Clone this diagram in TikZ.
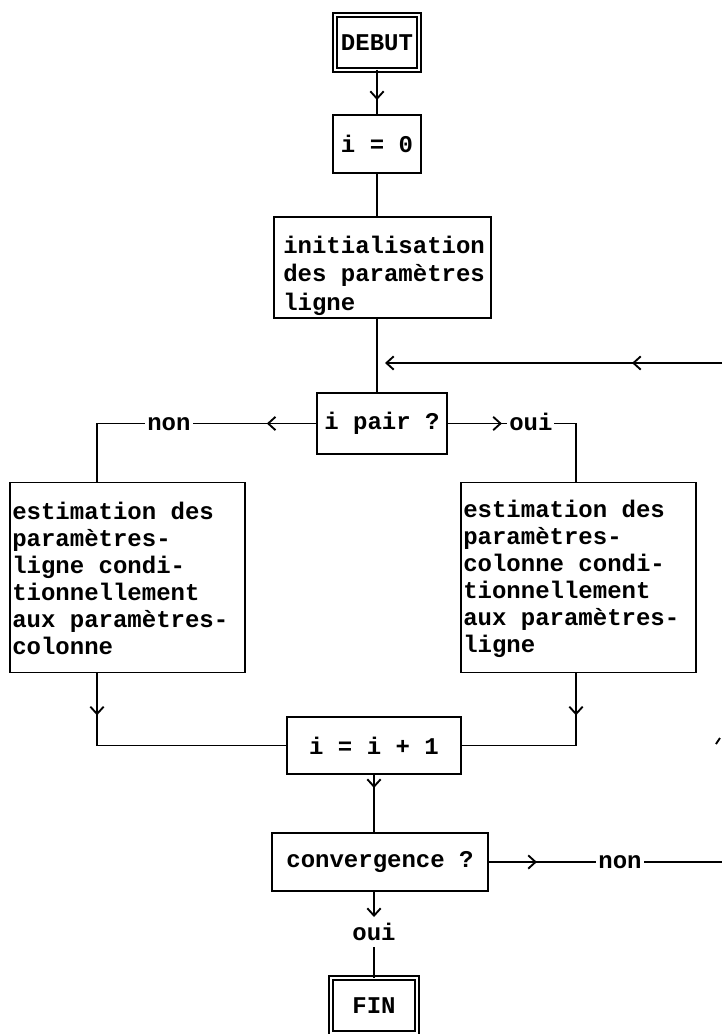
\documentclass[tikz,border=0pt]{standalone}
\usepackage{fontspec}
\newfontfamily\tw{Liberation Mono}
\usetikzlibrary{arrows.meta,decorations.markings,calc}
\newdimen\pxu \pxu=0.75pt
\begin{document}
\begin{tikzpicture}[x=0.75pt,y=-0.75pt,
  >={Straight Barb[length=5.5pt,width=10pt]},
  tfont/.style={font=\tw\bfseries\fontsize{18}{20.25}\selectfont},
  box/.style={draw, line width=1.4pt, outer sep=0pt, inner sep=0pt, tfont},
  dbox/.style={box, double, double distance=1.5pt, line width=1.5pt},
  txt/.style={inner sep=0pt, tfont},
  mtxt/.style={txt, align=left, anchor=west},
  lbl/.style={fill=white, inner xsep=1.5pt, inner ysep=1pt, anchor=base, yshift=-5pt, tfont},
  conn/.style={line width=1.4pt},
  marr/.style={postaction={decorate,decoration={markings,mark=at position #1 with {\arrow{>}}}}}
]
\useasboundingbox (0,0) rectangle (722,1034);
\fill[white] (0,0) rectangle (722,1034);

% nodes
\node[dbox, minimum width=84\pxu, minimum height=55\pxu] (debut) at (377,42.5) {DEBUT};
\node[box, minimum width=88\pxu, minimum height=58\pxu] (i0) at (377,144) {i = 0};
\node[box, minimum width=217\pxu, minimum height=101\pxu] (init) at (382.5,267.5) {};
\node[mtxt, font=\tw\bfseries\fontsize{18}{21.4}\selectfont] (initt) at (283,275.5) {initialisation\\des paramètres\\ligne};
\node[box, minimum width=130\pxu, minimum height=61\pxu] (ipair) at (382,423.5) {i pair ?};
\node[box, minimum width=235\pxu, minimum height=190\pxu] (lbox) at (127.5,577.5) {};
\node[mtxt] (lboxt) at (12,578.5)
  {estimation des\\paramètres-\\ligne condi-\\tionnellement\\aux paramètres-\\colonne};
\node[box, minimum width=235\pxu, minimum height=190\pxu] (rbox) at (578.5,577.5) {};
\node[mtxt] (rboxt) at (463,578.5)
  {estimation des\\paramètres-\\colonne condi-\\tionnellement\\aux paramètres-\\ligne};
\node[box, minimum width=174\pxu, minimum height=57\pxu] (ipp1) at (374,745.5) {i = i + 1};
\node[box, minimum width=216\pxu, minimum height=58\pxu] (conv) at (380,862) {convergence ?};
\node[txt, anchor=base, inner sep=1pt] (oui) at (374,940) {oui};
\node[dbox, minimum width=86\pxu, minimum height=55\pxu] (fin) at (374,1005.5) {FIN};

% helper coordinates
\coordinate (fbR) at (722,363);
\coordinate (lturn) at (97,423.5);
\coordinate (rturn) at (576,423.5);
\coordinate (cR) at (722,862);

% connectors
\draw[conn, marr=0.667] (debut.south) -- (i0.north);
\draw[conn] (i0.south) -- (i0 |- init.north);
\draw[conn] (i0 |- init.south) -- (i0 |- ipair.north);
\draw[conn, ->, marr=0.267] (fbR) -- ($(i0 |- fbR)+(8,0)$);
\draw[conn, marr=0.18] (ipair.west) -- node[lbl, pos=0.673] {non} (lturn) -- (lturn |- lbox.north);
\draw[conn, marr=0.292] (ipair.east) -- node[lbl, pos=0.65] {oui} (rturn) -- (rturn |- rbox.north);
\draw[conn, marr=0.163] (lturn |- lbox.south) -- (lturn |- ipp1.west) -- (ipp1.west);
\draw[conn, marr=0.228] (rturn |- rbox.south) -- (rturn |- ipp1.east) -- (ipp1.east);
\draw[conn, marr=0.237] (ipp1.south) -- (ipp1.south |- conv.north);
\draw[conn, marr=0.209] (conv.east) -- node[lbl, pos=0.564] {non} (cR);
\draw[conn, ->, shorten >=3pt] (ipp1.south |- conv.south) -- (oui.north);
\draw[conn, shorten <=4pt] (oui.south) -- (oui.south |- fin.north);
\draw[conn] (716,744) -- (720,738);
\end{tikzpicture}
\end{document}
